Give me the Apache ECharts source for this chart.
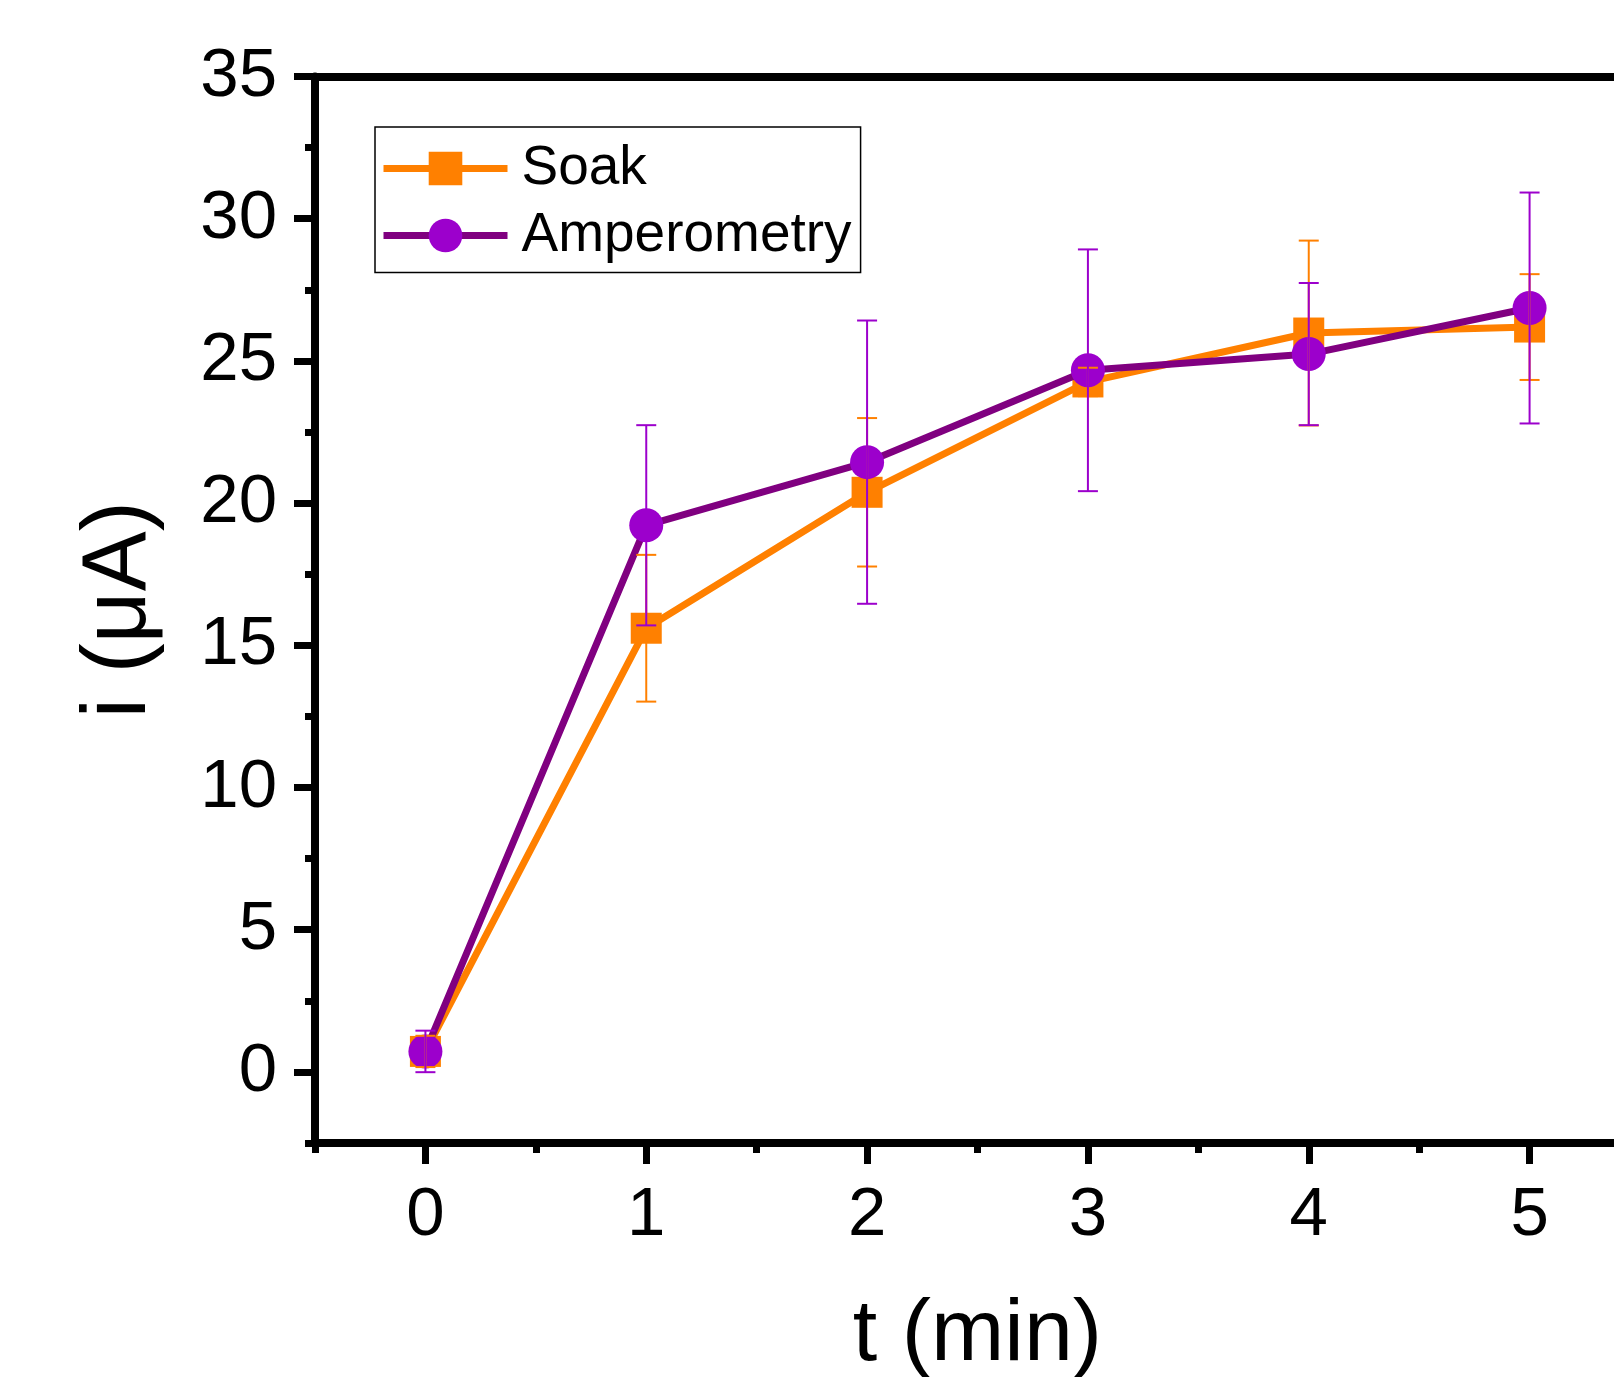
<!DOCTYPE html>
<html>
<head>
<meta charset="utf-8">
<script src="https://cdn.jsdelivr.net/npm/echarts@6/dist/echarts.min.js"></script>
<style>
html, body { margin: 0; padding: 0; background: #fff; overflow: hidden; }
#chart { width: 1700px; height: 1377px; }
</style>
</head>
<body>
<div id="chart"></div>
<script>
// Measured current vs. time, mean and error for the two loading methods
const times = [0, 1, 2, 3, 4, 5];
const soakMean = [0.72, 15.6, 20.38, 24.26, 25.98, 26.19];
const soakErr = [0.55, 2.58, 2.61, 0.5, 3.25, 1.86];
const ampMean = [0.72, 19.22, 21.44, 24.67, 25.24, 26.86];
const ampErr = [0.73, 3.52, 4.98, 4.25, 2.5, 4.06];

// Tick positions
const xMajorTicks = [0, 1, 2, 3, 4, 5];
const xMinorTicks = [-0.5, 0.5, 1.5, 2.5, 3.5, 4.5, 5.5];
const yMajorTicks = [0, 5, 10, 15, 20, 25, 30, 35];
const yMinorTicks = [-2.5, 2.5, 7.5, 12.5, 17.5, 22.5, 27.5, 32.5];

const FONT = '"Liberation Sans", Arial, sans-serif';
const ORANGE = '#FF8000';
const PURPLE_LINE = '#800080';
const PURPLE_MARK = '#9C00CC';
const LINE_WIDTH = 7;

const points = (xs, ys) => xs.map((x, i) => [x, ys[i]]);
const bars = (xs, ys, es) => xs.map((x, i) => [x, ys[i] - es[i], ys[i] + es[i]]);

function errorBar(color) {
  return function (params, api) {
    const x = api.value(0);
    const lo = api.coord([x, api.value(1)]);
    const hi = api.coord([x, api.value(2)]);
    const cap = 10;
    const style = { stroke: color, lineWidth: 2 };
    return {
      type: 'group',
      children: [
        { type: 'line', shape: { x1: lo[0], y1: lo[1], x2: hi[0], y2: hi[1] }, style },
        { type: 'line', shape: { x1: hi[0] - cap, y1: hi[1], x2: hi[0] + cap, y2: hi[1] }, style },
        { type: 'line', shape: { x1: lo[0] - cap, y1: lo[1], x2: lo[0] + cap, y2: lo[1] }, style }
      ]
    };
  };
}

const axisLineStyle = { color: '#000', width: 8 };
const tickStyle = { color: '#000', width: 7 };

const chart = echarts.init(document.getElementById('chart'), null, { renderer: 'canvas' });
chart.setOption({
  animation: false,
  backgroundColor: '#fff',
  textStyle: { fontFamily: FONT },
  grid: { left: 315, top: 76.5, width: 1325, height: 1066.5, outerBoundsMode: 'none', containLabel: false },
  legend: {
    data: ['Soak', 'Amperometry'],
    orient: 'vertical',
    left: 375,
    top: 127,
    padding: [14, 9, 9.5, 5],
    itemWidth: 124,
    itemHeight: 42,
    itemGap: 12,
    borderColor: '#000',
    borderWidth: 1.5,
    selectedMode: false,
    lineStyle: { width: LINE_WIDTH },
    textStyle: { fontFamily: FONT, fontSize: 55, color: '#000', padding: [0, 0, 0, 9] }
  },
  xAxis: [
    {
      type: 'value', min: -0.5, max: 5.5, position: 'bottom',
      axisLine: { show: true, onZero: false, lineStyle: axisLineStyle },
      axisTick: { show: true, customValues: xMajorTicks, length: 21, lineStyle: tickStyle },
      axisLabel: { customValues: xMajorTicks, margin: 38, fontSize: 69, color: '#000', fontFamily: FONT },
      splitLine: { show: false },
      name: 't (min)', nameLocation: 'middle', nameGap: 149, nameMoveOverlap: false,
      nameTextStyle: { fontSize: 88, color: '#000', fontFamily: FONT }
    },
    {
      type: 'value', min: -0.5, max: 5.5, position: 'bottom',
      axisLine: { show: false, onZero: false },
      axisTick: { show: true, customValues: xMinorTicks, length: 10, lineStyle: tickStyle },
      axisLabel: { show: false },
      splitLine: { show: false }
    },
    {
      type: 'value', min: -0.5, max: 5.5, position: 'top',
      axisLine: { show: true, onZero: false, lineStyle: axisLineStyle },
      axisTick: { show: false },
      axisLabel: { show: false },
      splitLine: { show: false }
    }
  ],
  yAxis: [
    {
      type: 'value', min: -2.5, max: 35, position: 'left',
      axisLine: { show: true, onZero: false, lineStyle: axisLineStyle },
      axisTick: { show: true, customValues: yMajorTicks, length: 21, lineStyle: tickStyle },
      axisLabel: { customValues: yMajorTicks, margin: 38, fontSize: 69, color: '#000', fontFamily: FONT },
      splitLine: { show: false },
      name: 'i (μA)', nameLocation: 'middle', nameGap: 150, nameMoveOverlap: false,
      nameTextStyle: { fontSize: 90, color: '#000', fontFamily: FONT }
    },
    {
      type: 'value', min: -2.5, max: 35, position: 'left',
      axisLine: { show: false, onZero: false },
      axisTick: { show: true, customValues: yMinorTicks, length: 10, lineStyle: tickStyle },
      axisLabel: { show: false },
      splitLine: { show: false }
    }
  ],
  series: [
    {
      name: 'Soak', type: 'line', xAxisIndex: 0, yAxisIndex: 0, z: 2,
      data: points(times, soakMean),
      symbol: 'rect', symbolSize: 31, showSymbol: true,
      itemStyle: { color: ORANGE },
      lineStyle: { color: ORANGE, width: LINE_WIDTH },
      emphasis: { disabled: true }
    },
    {
      name: 'Amperometry', type: 'line', xAxisIndex: 0, yAxisIndex: 0, z: 3,
      data: points(times, ampMean),
      symbol: 'circle', symbolSize: 34, showSymbol: true,
      itemStyle: { color: PURPLE_MARK },
      lineStyle: { color: PURPLE_LINE, width: LINE_WIDTH },
      emphasis: { disabled: true }
    },
    {
      name: 'Soak error', type: 'custom', xAxisIndex: 0, yAxisIndex: 0, z: 4,
      data: bars(times, soakMean, soakErr),
      encode: { x: 0, y: [1, 2] },
      renderItem: errorBar(ORANGE)
    },
    {
      name: 'Amperometry error', type: 'custom', xAxisIndex: 0, yAxisIndex: 0, z: 5,
      data: bars(times, ampMean, ampErr),
      encode: { x: 0, y: [1, 2] },
      renderItem: errorBar(PURPLE_MARK)
    }
  ]
});
</script>
</body>
</html>
